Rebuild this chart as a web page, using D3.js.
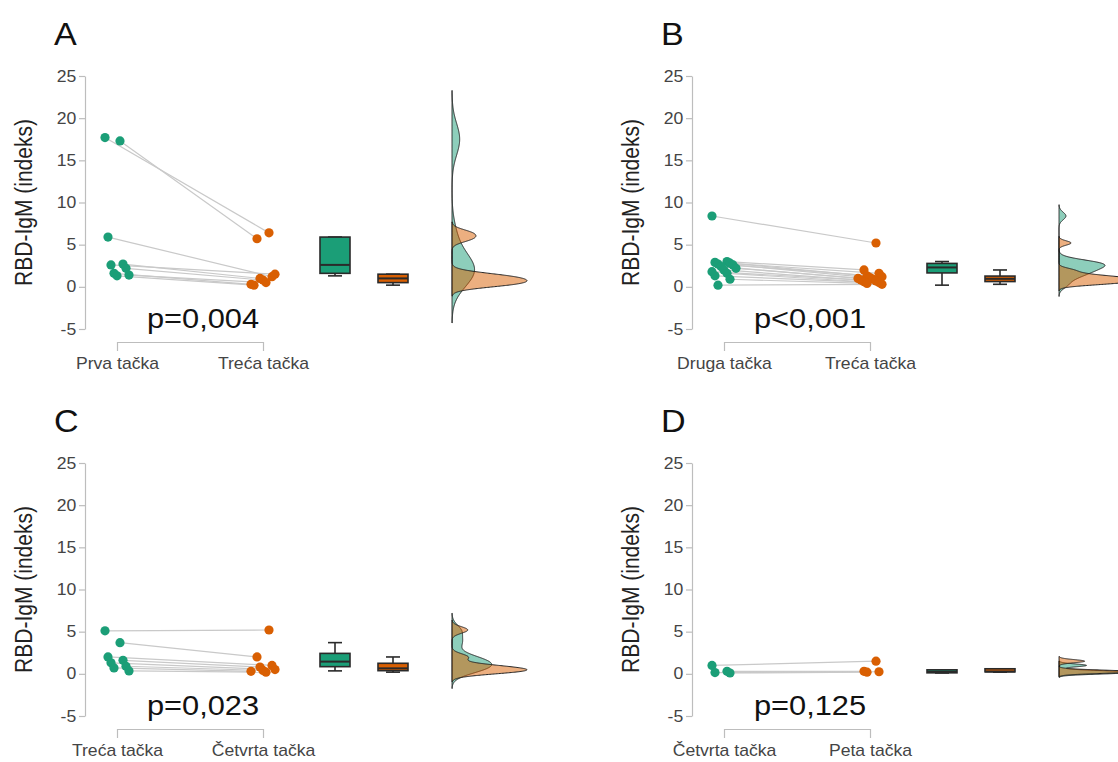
<!DOCTYPE html>
<html lang="sr">
<head>
    <meta charset="UTF-8">
    <title>RBD-IgM</title>
    <script src="https://d3js.org/d3.v7.min.js"></script>
    <style>
        body { margin: 0; background: #fff; }
        svg { display: block; font-family: "Liberation Sans", Arial, sans-serif; }
        .axis path, .axis line { stroke: #bdbdbd; stroke-width: 1.2px; }
        .axis text { fill: #444; font-size: 16px; }
    </style>
</head>
<body>
<svg id="chart" width="1118" height="762"></svg>
<script>
    // vrednosti ocitane sa slike
    const letters = ["A", "B", "C", "D"];
    const pValues = ["p=0,004", "p<0,001", "p=0,023", "p=0,125"];
    const catsA = ["Prva tačka", "Treća tačka"];
    const catsB = ["Druga tačka", "Treća tačka"];
    const catsC = ["Treća tačka", "Četvrta tačka"];
    const catsD = ["Četvrta tačka", "Peta tačka"];
    const aFirst = [17.7, 17.3, 5.9, 2.7, 2.6, 2.2, 1.6, 1.4, 1.3];
    const aSecond = [6.4, 5.7, 1.2, 1.0, 1.5, 0.8, 0.3, 0.5, 0.2];
    const bFirst = [8.4, 3.0, 2.9, 2.8, 2.7, 2.6, 2.4, 2.2, 2.0, 1.8, 1.6, 1.3, 0.9, 0.2];
    const bSecond = [5.2, 2.0, 1.6, 1.3, 1.2, 1.1, 1.0, 0.9, 0.8, 0.7, 0.6, 0.5, 0.4, 0.3];
    const cFirst = [5.1, 3.7, 2.0, 1.6, 1.3, 0.9, 0.7, 0.35];
    const cSecond = [5.2, 2.0, 1.0, 0.8, 0.5, 0.4, 0.3, 0.2];
    const dFirst = [1.0, 0.3, 0.15, 0.1];
    const dSecond = [1.5, 0.3, 0.25, 0.2];
    const yTicks = [-5, 0, 5, 10, 15, 20, 25];
    const yTitle = "RBD-IgM (indeks)";

    const panels = [
        { cats: catsA, first: aFirst, second: aSecond },
        { cats: catsB, first: bFirst, second: bSecond },
        { cats: catsC, first: cFirst, second: cSecond },
        { cats: catsD, first: dFirst, second: dSecond }
    ];
    const offsets = [[0, 0], [607, 0], [0, 387], [607, 387]];

    const green = "#1b9e77", orange = "#d95f02";
    const SX = 1.1; // tekst je na originalu malo razvucen
    const L = { axisX: 85, cat1: 117, cat2: 263, box1: 335, box2: 393, dens: 452, pX: 203,
                top: 76, bottom: 329, bracketY: 342, boxW: 30, capW: 14, densW: 75 };

    const svg = d3.select("#chart");

    function label(g, x, y, s, size, anchor, color) {
        return g.append("text")
            .attr("transform", `translate(${x},${y}) scale(${SX},1)`)
            .attr("text-anchor", anchor || "start")
            .attr("font-size", size)
            .attr("fill", color || "#222")
            .text(s);
    }

    function boxStats(vals) {
        const s = vals.slice().sort(d3.ascending);
        const q1 = d3.quantile(s, 0.25), med = d3.quantile(s, 0.5), q3 = d3.quantile(s, 0.75);
        const iqr = q3 - q1;
        const lo = d3.min(s.filter(v => v >= q1 - 1.5 * iqr));
        const hi = d3.max(s.filter(v => v <= q3 + 1.5 * iqr));
        return { q1, med, q3, lo, hi };
    }

    function bwNrd0(vals) {
        const sd = d3.deviation(vals);
        const s = vals.slice().sort(d3.ascending);
        const iqr = d3.quantile(s, 0.75) - d3.quantile(s, 0.25);
        const lo = Math.min(sd, iqr / 1.34) || sd;
        return 0.9 * lo * Math.pow(vals.length, -0.2);
    }

    function kde(vals) {
        const bw = bwNrd0(vals);
        const a = d3.min(vals) - 3 * bw, b = d3.max(vals) + 3 * bw;
        const n = 512, out = [];
        for (let i = 0; i < n; i++) {
            const v = a + (b - a) * i / (n - 1);
            const d = d3.mean(vals, x => Math.exp(-0.5 * ((v - x) / bw) ** 2)) / (bw * Math.sqrt(2 * Math.PI));
            out.push([v, d]);
        }
        return out;
    }

    const jit = i => ((i * 5) % 9 - 4) * 3;

    panels.forEach((p, k) => {
        const g = svg.append("g").attr("transform", `translate(${offsets[k][0]},${offsets[k][1]})`);
        const y = d3.scaleLinear().domain([-5, 25]).range([L.bottom, L.top]);
        const x = d3.scalePoint().domain(p.cats).range([L.cat1, L.cat2]);

        // panel slovo
        label(g, 54, 45, letters[k], 31, "start", "#111");

        // y osa
        const ya = g.append("g").attr("class", "axis")
            .attr("transform", `translate(${L.axisX},0)`)
            .call(d3.axisLeft(y).tickValues(yTicks).tickFormat(d => String(d))
                .tickSize(6).tickSizeOuter(0).tickPadding(2));
        ya.selectAll("text").attr("transform", `scale(${SX},1)`);

        g.append("text")
            .attr("transform", `translate(32,${(L.top + L.bottom) / 2}) rotate(-90) scale(1,${SX})`)
            .attr("text-anchor", "middle")
            .attr("font-size", 21)
            .attr("fill", "#222")
            .text(yTitle);

        // x osa (zagrada)
        const xa = g.append("g").attr("class", "axis")
            .attr("transform", `translate(0,${L.bracketY})`)
            .call(d3.axisBottom(x).tickSize(9).tickSizeOuter(0).tickPadding(6));
        xa.selectAll("text").attr("font-size", 17).attr("fill", "#333")
            .attr("transform", `scale(${SX},1)`).attr("dy", "0.78em");

        // p vrednost
        label(g, L.pX, 328, pValues[k], 28, "middle", "#111");

        // linije izmedju parova
        g.append("g").selectAll("line").data(p.first).join("line")
            .attr("x1", (d, i) => x(p.cats[0]) + jit(i))
            .attr("y1", d => y(d))
            .attr("x2", (d, i) => x(p.cats[1]) + jit(i + 3))
            .attr("y2", (d, i) => y(p.second[i]))
            .attr("stroke", "#c9c9c9").attr("stroke-width", 1.2);

        [[p.first, green, 0], [p.second, orange, 3]].forEach(([vals, col, sh], j) => {
            g.append("g").selectAll("circle").data(vals).join("circle")
                .attr("cx", (d, i) => x(p.cats[j]) + jit(i + sh))
                .attr("cy", d => y(d))
                .attr("r", 4.6)
                .attr("fill", col);
        });

        // box plotovi
        [[p.first, green, L.box1], [p.second, orange, L.box2]].forEach(([vals, col, cx]) => {
            const b = boxStats(vals);
            const bg = g.append("g").attr("stroke", "#2a2a2a").attr("stroke-width", 1.6);
            bg.append("line").attr("x1", cx).attr("x2", cx).attr("y1", y(b.hi)).attr("y2", y(b.q3));
            bg.append("line").attr("x1", cx).attr("x2", cx).attr("y1", y(b.q1)).attr("y2", y(b.lo));
            bg.append("line").attr("x1", cx - L.capW / 2).attr("x2", cx + L.capW / 2).attr("y1", y(b.hi)).attr("y2", y(b.hi));
            bg.append("line").attr("x1", cx - L.capW / 2).attr("x2", cx + L.capW / 2).attr("y1", y(b.lo)).attr("y2", y(b.lo));
            bg.append("rect").attr("x", cx - L.boxW / 2).attr("width", L.boxW)
                .attr("y", y(b.q3)).attr("height", Math.max(3, y(b.q1) - y(b.q3)))
                .attr("fill", col);
            bg.append("line").attr("x1", cx - L.boxW / 2).attr("x2", cx + L.boxW / 2)
                .attr("y1", y(b.med)).attr("y2", y(b.med)).attr("stroke-width", 2);
        });

        // gustine
        const d1 = kde(p.first), d2 = kde(p.second);
        const dmax = d3.max(d1.concat(d2), d => d[1]);
        const w = d3.scaleLinear().domain([0, dmax]).range([0, L.densW]);
        const area = d3.area().y(d => y(d[0])).x0(L.dens).x1(d => L.dens + w(d[1]));
        [[d1, green], [d2, orange]].forEach(([dd, col]) => {
            g.append("path").datum(dd).attr("d", area)
                .attr("fill", col).attr("fill-opacity", 0.5)
                .attr("stroke", "#222").attr("stroke-width", 1);
        });
    });
</script>
</body>
</html>
